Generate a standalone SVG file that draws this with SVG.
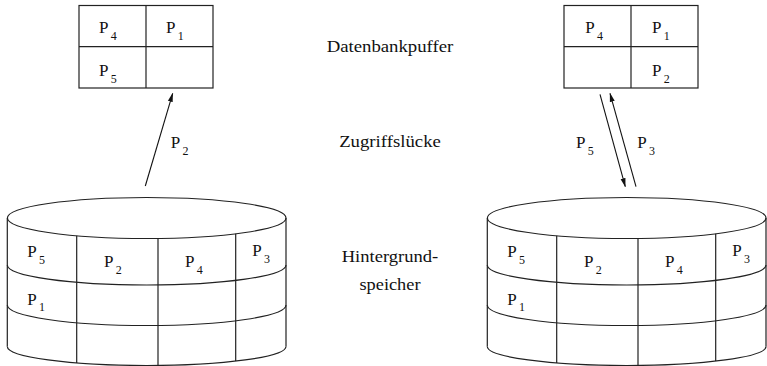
<svg xmlns="http://www.w3.org/2000/svg" width="767" height="366" viewBox="0 0 767 366">
  <style>
    .ln { fill: none; stroke: #222; stroke-width: 1.2; }
    .arr { fill: none; stroke: #111; stroke-width: 1.1; marker-end: url(#head); }
    .t { font-family: "Liberation Serif", "Times New Roman", Times, "Nimbus Roman", "Nimbus Roman No9 L", FreeSerif, "Noto Serif", Tinos, "DejaVu Serif", serif; fill: #111; }
    .p { font-size: 17px; }
    .s { font-size: 12px; }
    .lbl { font-size: 17px; text-anchor: middle; }
  </style>
  <defs>
    <marker id="head" markerWidth="9" markerHeight="6" refX="8.5" refY="3" orient="auto" markerUnits="userSpaceOnUse">
      <path d="M0,0.5 L9,3 L0,5.5 z" fill="#111"/>
    </marker>
    <!-- database cylinder: drum with three tracks and four sectors -->
    <g id="drum">
      <ellipse class="ln" cx="146.7" cy="218" rx="139.3" ry="20.5"/>
      <path class="ln" d="M7.3,218 V346.5 M286,218 V346.5"/>
      <path class="ln" d="M7.3,265 A139.3,20 0 0 0 286,265"/>
      <path class="ln" d="M7.3,305 A139.3,20.5 0 0 0 286,305"/>
      <path class="ln" d="M7.3,346.5 A139.3,19 0 0 0 286,346.5"/>
      <path class="ln" d="M76.7,235.7 V362.9 M158,238.4 V365.4 M235.7,233.8 V361.1"/>
    </g>
  </defs>

  <!-- buffer, left state -->
  <g id="buffer-left" class="t">
    <rect class="ln" x="79" y="5.5" width="134" height="82.5"/>
    <path class="ln" d="M146,5.5 V88 M79,46.7 H213"/>
    <text class="p" x="99" y="33">P</text><text class="s" x="110.7" y="39.5">4</text>
    <text class="p" x="166" y="33">P</text><text class="s" x="177.7" y="39.5">1</text>
    <text class="p" x="99" y="76">P</text><text class="s" x="110.7" y="82.5">5</text>
  </g>

  <!-- secondary storage, left state -->
  <g id="storage-left" class="t">
    <use href="#drum"/>
    <text class="p" x="27.3" y="257.3">P</text><text class="s" x="39" y="263.8">5</text>
    <text class="p" x="104" y="267">P</text><text class="s" x="115.7" y="273.5">2</text>
    <text class="p" x="185" y="267">P</text><text class="s" x="196.7" y="273.5">4</text>
    <text class="p" x="252.3" y="256">P</text><text class="s" x="264" y="262.5">3</text>
    <text class="p" x="27.3" y="304.7">P</text><text class="s" x="39" y="311.2">1</text>
  </g>

  <!-- buffer, right state -->
  <g id="buffer-right" class="t">
    <rect class="ln" x="564" y="5.5" width="134" height="82.5"/>
    <path class="ln" d="M631,5.5 V88 M564,46.7 H698"/>
    <text class="p" x="585.3" y="33">P</text><text class="s" x="597" y="39.5">4</text>
    <text class="p" x="652" y="33">P</text><text class="s" x="663.7" y="39.5">1</text>
    <text class="p" x="652" y="76">P</text><text class="s" x="663.7" y="82.5">2</text>
  </g>

  <!-- secondary storage, right state -->
  <g id="storage-right" class="t">
    <use href="#drum" x="480"/>
    <text class="p" x="507.3" y="257.3">P</text><text class="s" x="519" y="263.8">5</text>
    <text class="p" x="584" y="267">P</text><text class="s" x="595.7" y="273.5">2</text>
    <text class="p" x="665" y="267">P</text><text class="s" x="676.7" y="273.5">4</text>
    <text class="p" x="732.3" y="256">P</text><text class="s" x="744" y="262.5">3</text>
    <text class="p" x="507.3" y="304.7">P</text><text class="s" x="519" y="311.2">1</text>
  </g>

  <!-- transfers between storage and buffer -->
  <g id="connectors" class="t">
    <line class="arr" x1="145.3" y1="186" x2="172.7" y2="93.3"/>
    <line class="arr" x1="600" y1="94.3" x2="625.3" y2="186.7"/>
    <line class="arr" x1="636" y1="186.7" x2="610" y2="93.3"/>
    <text class="p" x="170.7" y="148">P</text><text class="s" x="182.4" y="154.5">2</text>
    <text class="p" x="576" y="148">P</text><text class="s" x="587.7" y="154.5">5</text>
    <text class="p" x="637.3" y="148">P</text><text class="s" x="649" y="154.5">3</text>
  </g>

  <!-- level captions -->
  <g id="captions" class="t">
    <text class="lbl" x="390" y="52" textLength="126.7" lengthAdjust="spacingAndGlyphs">Datenbankpuffer</text>
    <text class="lbl" x="390" y="147.3" textLength="101.7" lengthAdjust="spacingAndGlyphs">Zugriffslücke</text>
    <text class="lbl" x="390" y="261.7" textLength="96.6" lengthAdjust="spacingAndGlyphs">Hintergrund-</text>
    <text class="lbl" x="390" y="290" textLength="61" lengthAdjust="spacingAndGlyphs">speicher</text>
  </g>
</svg>
